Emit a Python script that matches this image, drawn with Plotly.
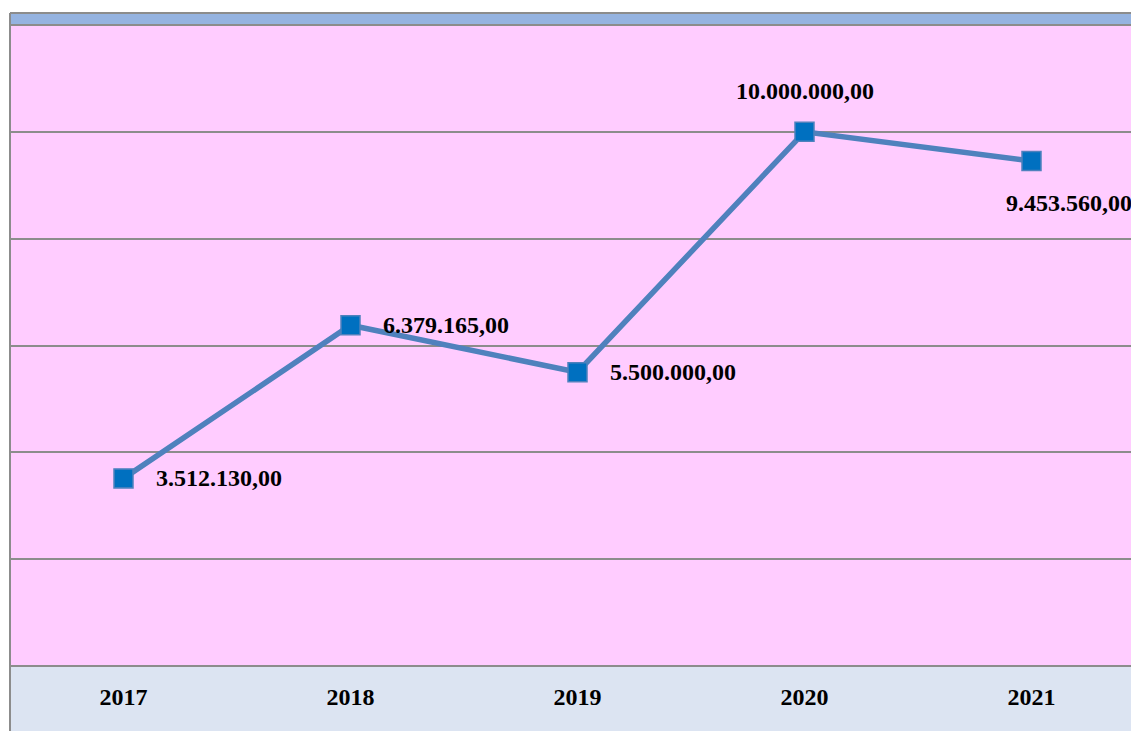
import plotly.graph_objects as go

years = ["2017", "2018", "2019", "2020", "2021"]
values = [3512130.00, 6379165.00, 5500000.00, 10000000.00, 9453560.00]
labels = ["3.512.130,00", "6.379.165,00", "5.500.000,00", "10.000.000,00", "9.453.560,00"]
y_ticks = [0, 2000000, 4000000, 6000000, 8000000, 10000000, 12000000]

FONT = "Liberation Serif"
W, H = 1131, 731
ML, MR, MT, MB = 10, 0, 25, 65
plot_h = H - MT - MB
plot_w = W - ML - MR
cat_px = 227.0
band_top = 1 + 12 / plot_h

fig = go.Figure()
fig.add_trace(go.Scatter(
    x=list(range(len(years))), y=values, mode="lines+markers",
    line=dict(color="#4F81BD", width=5.5),
    marker=dict(symbol="square", size=19, color="#0070C0",
                line=dict(color="#4F81BD", width=1.5)),
    hoverinfo="skip", showlegend=False,
))

# data label placements (offsets in pixels)
offsets = [(30, 0, "left"), (30, 0, "left"), (30, 0, "left"), (0, 41, "center"), (-28, -42, "left")]
for i, (v, lab, (dx, dy, xa)) in enumerate(zip(values, labels, offsets)):
    fig.add_annotation(x=i, y=v, text="<b>%s</b>" % lab, showarrow=False,
                       xanchor=xa, yanchor="middle", xshift=dx, yshift=dy,
                       font=dict(family=FONT, size=24, color="#000000"))

shapes = [
    dict(type="rect", xref="paper", yref="paper", x0=0, x1=1.05,
         y0=1, y1=band_top, fillcolor="#95B3E0", line=dict(width=0), layer="below"),
    dict(type="rect", xref="paper", yref="paper", x0=0, x1=1.05,
         y0=-MB / plot_h - 0.02, y1=0, fillcolor="#DCE4F2", line=dict(width=0), layer="below"),
    dict(type="line", xref="paper", yref="paper", x0=0, x1=1.05,
         y0=band_top, y1=band_top, line=dict(color="#8C8C8C", width=2)),
    dict(type="line", xref="paper", yref="paper", x0=0, x1=1.05,
         y0=1, y1=1, line=dict(color="#8C8C8C", width=2), layer="below"),
    dict(type="line", xref="paper", yref="paper", x0=0, x1=1.05,
         y0=0, y1=0, line=dict(color="#8C8C8C", width=2), layer="below"),
    dict(type="line", xref="paper", yref="paper", x0=0, x1=0,
         y0=-MB / plot_h - 0.02, y1=band_top, line=dict(color="#8C8C8C", width=2)),
]

fig.update_layout(
    width=W, height=H,
    margin=dict(l=ML, r=MR, t=MT, b=MB, pad=0),
    paper_bgcolor="#FFFFFF",
    plot_bgcolor="#FFCCFF",
    shapes=shapes,
    hovermode=False,
    xaxis=dict(type="linear", range=[-0.5, -0.5 + plot_w / cat_px], showgrid=False, zeroline=False,
               showline=False, ticks="", ticklabelstandoff=14,
               tickfont=dict(family=FONT, size=24, color="#000000"),
               tickvals=list(range(len(years))), ticktext=["<b>%s</b>" % y for y in years]),
    yaxis=dict(range=[0, 12000000], tickvals=y_ticks, showticklabels=False,
               showgrid=True, gridcolor="#8C8C8C", gridwidth=1.5,
               zeroline=False, showline=False, ticks=""),
)

fig.write_html("out.html", config={"displayModeBar": False},
               post_script="document.body.style.margin='0';document.body.style.overflow='hidden';")
